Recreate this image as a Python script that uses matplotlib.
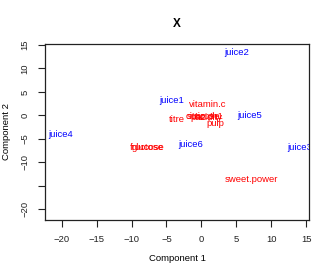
import matplotlib
matplotlib.use("Agg")
import matplotlib.pyplot as plt

# samples (blue) and variables (red) positions on components 1 and 2
samples = ["juice1", "juice2", "juice3", "juice4", "juice5", "juice6"]
samp_x = [-4.2, 5.0, 14.0, -20.1, 6.9, -1.6]
samp_y = [3.1, 13.3, -6.9, -4.0, -0.1, -6.3]

variables = ["vitamin.c", "titre", "citric", "ph1", "ph2", "acidity", "sucrose",
             "pulp", "fructose", "glucose", "sweet.power"]
var_x = [0.9, -3.5, -0.9, 2.0, -0.5, 1.1, 0.3, 2.0, -7.8, -7.6, 7.1]
var_y = [2.3, -0.8, -0.3, -0.2, -0.5, -0.4, -0.3, -1.8, -6.8, -6.9, -13.6]

x_ticks = [-20, -15, -10, -5, 0, 5, 10, 15]
y_ticks = [-20, -15, -10, -5, 0, 5, 10, 15]
y_tick_labels = ["-20", "", "-10", "-5", "0", "5", "10", "15"]


def main():
    plt.rcParams["font.family"] = ["Liberation Sans", "DejaVu Sans"]
    fig = plt.figure(figsize=(3.32, 2.77), dpi=100)
    ax = fig.add_axes([0.1355, 0.206, 0.795, 0.635])

    for name, x, y in zip(samples, samp_x, samp_y):
        ax.text(x, y, name, color="blue", fontsize=6.8, ha="center", va="center",
                clip_on=True)
    for name, x, y in zip(variables, var_x, var_y):
        ax.text(x, y, name, color="red", fontsize=6.8, ha="center", va="center",
                clip_on=True)

    ax.set_xlim(-22.4, 15.4)
    ax.set_ylim(-22.3, 15.2)
    ax.set_xticks(x_ticks)
    ax.set_xticklabels([str(t).replace("-", "\u2212") for t in x_ticks])
    ax.set_yticks(y_ticks)
    ax.set_yticklabels([t.replace("-", "\u2212") for t in y_tick_labels],
                       rotation=90, va="center")
    ax.tick_params(direction="out", length=5, width=0.8, labelsize=6.8,
                   pad=6, colors="#222222")
    for s in ax.spines.values():
        s.set_linewidth(0.9)
        s.set_color("#222222")

    ax.set_xlabel("Component 1", fontsize=6.8, labelpad=7)
    ax.set_ylabel("Component 2", fontsize=6.8, labelpad=7)
    ax.set_title("X", fontsize=8.5, fontweight="bold", pad=12)

    fig.savefig("out.png", dpi=100)


if __name__ == '__main__':
    main()
